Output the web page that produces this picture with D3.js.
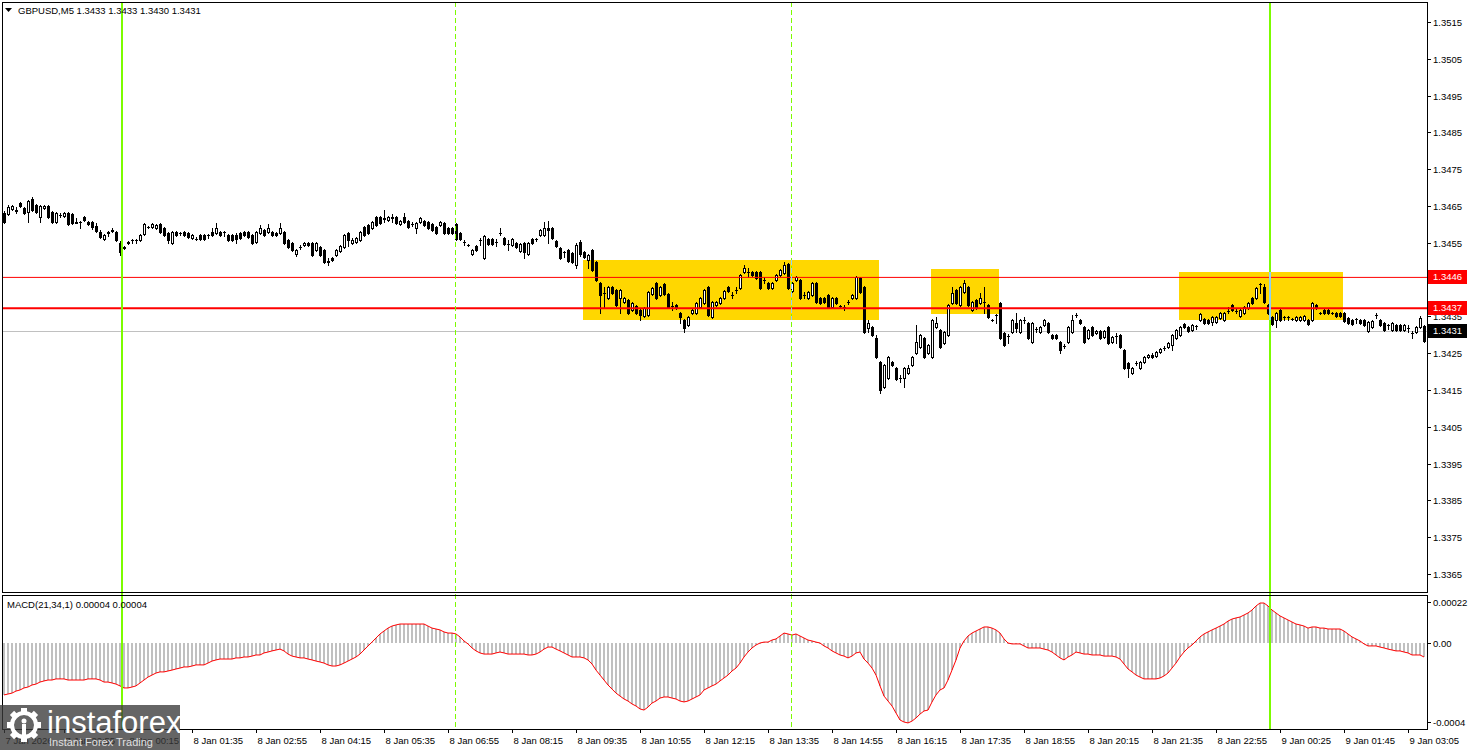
<!DOCTYPE html>
<html><head><meta charset="utf-8">
<script src="https://cdn.jsdelivr.net/npm/d3@7"></script>
<style>
html,body{margin:0;padding:0;background:#fff;}
svg{display:block;}
text{font-family:"Liberation Sans",Arial,sans-serif;}
</style></head><body>
<svg id="chart" width="1468" height="750"></svg>
<script>
const headerText = "GBPUSD,M5  1.3433 1.3433 1.3430 1.3431";
const macdTitle = "MACD(21,34,1) 0.00004 0.00004";

const barOpen = [
1.34631,1.34628,1.34642,1.34636,1.34658,1.34645,1.34634,1.34669,1.34653,1.34620,
1.34645,1.34650,1.34634,1.34607,1.34626,1.34623,1.34631,1.34628,1.34604,1.34607,
1.34620,1.34607,1.34607,1.34596,1.34579,1.34560,1.34577,1.34582,1.34579,1.34550,
1.34536,1.34550,1.34558,1.34558,1.34558,1.34574,1.34593,1.34593,1.34590,1.34601,
1.34590,1.34577,1.34550,1.34579,1.34577,1.34579,1.34577,1.34563,1.34560,1.34571,
1.34571,1.34571,1.34579,1.34577,1.34579,1.34579,1.34571,1.34571,1.34571,1.34577,
1.34579,1.34579,1.34571,1.34552,1.34577,1.34585,1.34579,1.34579,1.34577,1.34577,
1.34579,1.34558,1.34550,1.34520,1.34539,1.34544,1.34550,1.34550,1.34530,1.34539,
1.34530,1.34501,1.34509,1.34517,1.34528,1.34539,1.34577,1.34550,1.34552,1.34558,
1.34593,1.34598,1.34590,1.34620,1.34620,1.34615,1.34612,1.34617,1.34620,1.34601,
1.34620,1.34609,1.34601,1.34590,1.34607,1.34609,1.34607,1.34601,1.34593,1.34598,
1.34604,1.34590,1.34590,1.34601,1.34577,1.34552,1.34544,1.34520,1.34541,1.34558,
1.34509,1.34560,1.34560,1.34552,1.34577,1.34563,1.34547,1.34544,1.34550,1.34528,
1.34550,1.34520,1.34560,1.34560,1.34571,1.34571,1.34590,1.34590,1.34555,1.34536,
1.34525,1.34530,1.34522,1.34490,1.34552,1.34525,1.34503,1.34530,1.34498,1.34441,
1.34414,1.34400,1.34430,1.34422,1.34400,1.34389,1.34395,1.34367,1.34378,1.34367,
1.34351,1.34354,1.34411,1.34441,1.34408,1.34438,1.34411,1.34378,1.34381,1.34359,
1.34340,1.34327,1.34359,1.34359,1.34376,1.34386,1.34430,1.34348,1.34381,1.34386,
1.34400,1.34430,1.34408,1.34422,1.34427,1.34471,1.34471,1.34471,1.34471,1.34471,
1.34449,1.34441,1.34427,1.34449,1.34463,1.34468,1.34492,1.34419,1.34449,1.34449,
1.34408,1.34400,1.34408,1.34441,1.34400,1.34400,1.34408,1.34376,1.34400,1.34378,
1.34376,1.34389,1.34400,1.34400,1.34454,1.34430,1.34319,1.34321,1.34291,1.34226,
1.34158,1.34183,1.34226,1.34210,1.34183,1.34183,1.34196,1.34218,1.34251,1.34267,
1.34291,1.34251,1.34240,1.34321,1.34313,1.34278,1.34300,1.34386,1.34422,1.34381,
1.34416,1.34430,1.34367,1.34395,1.34386,1.34389,1.34381,1.34340,1.34354,1.34386,
1.34305,1.34297,1.34308,1.34332,1.34308,1.34340,1.34332,1.34280,1.34316,1.34308,
1.34327,1.34332,1.34300,1.34300,1.34280,1.34270,1.34280,1.34308,1.34354,1.34340,
1.34321,1.34291,1.34321,1.34305,1.34310,1.34294,1.34321,1.34280,1.34297,1.34300,
1.34259,1.34223,1.34196,1.34223,1.34210,1.34226,1.34240,1.34245,1.34242,1.34253,
1.34264,1.34267,1.34272,1.34291,1.34300,1.34329,1.34321,1.34313,1.34324,1.34340,
1.34343,1.34340,1.34335,1.34335,1.34346,1.34340,1.34365,1.34381,1.34365,1.34351,
1.34359,1.34373,1.34400,1.34400,1.34438,1.34430,1.34381,1.34348,1.34340,1.34367,
1.34348,1.34348,1.34343,1.34340,1.34340,1.34340,1.34340,1.34340,1.34381,1.34359,
1.34367,1.34367,1.34359,1.34359,1.34359,1.34359,1.34346,1.34340,1.34343,1.34340,
1.34340,1.34310,1.34321,1.34354,1.34340,1.34332,1.34327,1.34313,1.34327,1.34327,
1.34313,1.34319,1.34305,1.34308,1.34321,1.34324];

const barHigh = [
1.34636,1.34653,1.34653,1.34647,1.34661,1.34647,1.34666,1.34674,1.34655,1.34653,
1.34653,1.34653,1.34636,1.34634,1.34631,1.34634,1.34634,1.34631,1.34617,1.34609,
1.34623,1.34609,1.34609,1.34604,1.34585,1.34574,1.34582,1.34590,1.34582,1.34555,
1.34541,1.34555,1.34560,1.34560,1.34574,1.34604,1.34596,1.34604,1.34601,1.34604,
1.34593,1.34579,1.34582,1.34582,1.34579,1.34582,1.34579,1.34574,1.34566,1.34574,
1.34574,1.34574,1.34590,1.34604,1.34582,1.34582,1.34574,1.34574,1.34577,1.34579,
1.34582,1.34582,1.34574,1.34582,1.34598,1.34588,1.34601,1.34582,1.34579,1.34604,
1.34582,1.34560,1.34552,1.34533,1.34544,1.34552,1.34552,1.34552,1.34552,1.34541,
1.34533,1.34509,1.34511,1.34533,1.34544,1.34574,1.34579,1.34563,1.34566,1.34582,
1.34596,1.34601,1.34609,1.34623,1.34623,1.34639,1.34623,1.34628,1.34623,1.34612,
1.34631,1.34612,1.34607,1.34607,1.34620,1.34612,1.34609,1.34604,1.34596,1.34609,
1.34607,1.34593,1.34593,1.34604,1.34579,1.34558,1.34547,1.34533,1.34544,1.34563,
1.34571,1.34563,1.34563,1.34560,1.34590,1.34566,1.34558,1.34563,1.34552,1.34550,
1.34552,1.34552,1.34563,1.34563,1.34588,1.34607,1.34609,1.34593,1.34558,1.34539,
1.34528,1.34533,1.34525,1.34550,1.34558,1.34528,1.34520,1.34533,1.34501,1.34444,
1.34430,1.34433,1.34433,1.34425,1.34425,1.34403,1.34397,1.34389,1.34381,1.34370,
1.34376,1.34419,1.34430,1.34444,1.34433,1.34441,1.34414,1.34389,1.34384,1.34362,
1.34343,1.34351,1.34370,1.34389,1.34403,1.34425,1.34433,1.34392,1.34392,1.34403,
1.34422,1.34433,1.34416,1.34430,1.34465,1.34490,1.34482,1.34473,1.34473,1.34473,
1.34457,1.34444,1.34444,1.34465,1.34479,1.34498,1.34495,1.34444,1.34460,1.34452,
1.34416,1.34419,1.34444,1.34444,1.34403,1.34403,1.34411,1.34403,1.34403,1.34381,
1.34381,1.34395,1.34411,1.34460,1.34457,1.34433,1.34340,1.34324,1.34300,1.34229,
1.34221,1.34242,1.34229,1.34213,1.34191,1.34213,1.34218,1.34242,1.34327,1.34302,
1.34294,1.34275,1.34343,1.34348,1.34316,1.34310,1.34384,1.34430,1.34425,1.34433,
1.34449,1.34433,1.34392,1.34397,1.34414,1.34430,1.34384,1.34343,1.34357,1.34389,
1.34308,1.34302,1.34343,1.34359,1.34343,1.34348,1.34335,1.34335,1.34321,1.34324,
1.34343,1.34335,1.34302,1.34302,1.34283,1.34275,1.34324,1.34354,1.34359,1.34343,
1.34324,1.34316,1.34324,1.34313,1.34313,1.34313,1.34324,1.34297,1.34305,1.34302,
1.34261,1.34226,1.34213,1.34229,1.34229,1.34242,1.34248,1.34251,1.34256,1.34264,
1.34270,1.34280,1.34302,1.34316,1.34324,1.34332,1.34324,1.34329,1.34327,1.34359,
1.34346,1.34343,1.34351,1.34351,1.34362,1.34362,1.34376,1.34384,1.34370,1.34370,
1.34378,1.34389,1.34403,1.34430,1.34441,1.34438,1.34384,1.34351,1.34362,1.34370,
1.34351,1.34351,1.34346,1.34351,1.34351,1.34354,1.34343,1.34389,1.34384,1.34362,
1.34370,1.34370,1.34362,1.34362,1.34362,1.34362,1.34348,1.34343,1.34346,1.34343,
1.34343,1.34338,1.34340,1.34359,1.34343,1.34335,1.34329,1.34335,1.34329,1.34329,
1.34329,1.34327,1.34310,1.34324,1.34351,1.34327];

const barLow = [
1.34604,1.34626,1.34639,1.34631,1.34647,1.34628,1.34607,1.34636,1.34631,1.34607,
1.34642,1.34617,1.34604,1.34604,1.34620,1.34620,1.34598,1.34601,1.34604,1.34590,
1.34609,1.34598,1.34588,1.34579,1.34563,1.34558,1.34569,1.34579,1.34555,1.34517,
1.34533,1.34547,1.34550,1.34550,1.34555,1.34571,1.34590,1.34590,1.34588,1.34577,
1.34569,1.34550,1.34547,1.34569,1.34571,1.34569,1.34563,1.34560,1.34558,1.34558,
1.34558,1.34563,1.34569,1.34574,1.34569,1.34569,1.34555,1.34555,1.34550,1.34560,
1.34569,1.34563,1.34547,1.34550,1.34574,1.34569,1.34577,1.34569,1.34569,1.34574,
1.34547,1.34536,1.34528,1.34514,1.34533,1.34541,1.34541,1.34514,1.34528,1.34514,
1.34495,1.34490,1.34501,1.34514,1.34525,1.34536,1.34541,1.34547,1.34550,1.34555,
1.34569,1.34574,1.34588,1.34596,1.34601,1.34607,1.34609,1.34607,1.34601,1.34598,
1.34604,1.34590,1.34596,1.34577,1.34604,1.34596,1.34588,1.34582,1.34574,1.34596,
1.34574,1.34574,1.34574,1.34558,1.34558,1.34544,1.34541,1.34517,1.34528,1.34544,
1.34506,1.34544,1.34544,1.34541,1.34571,1.34544,1.34530,1.34541,1.34536,1.34525,
1.34509,1.34517,1.34547,1.34555,1.34569,1.34569,1.34550,1.34560,1.34539,1.34506,
1.34511,1.34498,1.34495,1.34482,1.34514,1.34509,1.34482,1.34473,1.34446,1.34359,
1.34376,1.34397,1.34411,1.34378,1.34359,1.34386,1.34357,1.34365,1.34357,1.34340,
1.34348,1.34351,1.34408,1.34397,1.34405,1.34408,1.34373,1.34367,1.34370,1.34332,
1.34308,1.34324,1.34357,1.34357,1.34373,1.34384,1.34351,1.34346,1.34378,1.34384,
1.34397,1.34416,1.34400,1.34414,1.34425,1.34468,1.34457,1.34460,1.34452,1.34425,
1.34441,1.34425,1.34425,1.34446,1.34460,1.34465,1.34425,1.34416,1.34446,1.34397,
1.34400,1.34397,1.34405,1.34386,1.34384,1.34386,1.34373,1.34373,1.34384,1.34373,
1.34367,1.34384,1.34397,1.34397,1.34414,1.34305,1.34308,1.34297,1.34237,1.34142,
1.34155,1.34180,1.34215,1.34177,1.34172,1.34158,1.34193,1.34215,1.34248,1.34264,
1.34237,1.34248,1.34237,1.34319,1.34264,1.34275,1.34297,1.34384,1.34384,1.34378,
1.34414,1.34378,1.34365,1.34370,1.34384,1.34359,1.34346,1.34338,1.34332,1.34289,
1.34270,1.34278,1.34305,1.34308,1.34305,1.34332,1.34289,1.34278,1.34308,1.34305,
1.34324,1.34305,1.34289,1.34289,1.34251,1.34264,1.34278,1.34305,1.34348,1.34329,
1.34278,1.34289,1.34297,1.34302,1.34289,1.34291,1.34275,1.34278,1.34278,1.34264,
1.34207,1.34185,1.34193,1.34218,1.34207,1.34223,1.34237,1.34237,1.34240,1.34251,
1.34259,1.34264,1.34259,1.34289,1.34297,1.34319,1.34308,1.34310,1.34316,1.34338,
1.34329,1.34329,1.34327,1.34332,1.34343,1.34338,1.34359,1.34365,1.34359,1.34348,
1.34357,1.34370,1.34384,1.34397,1.34414,1.34386,1.34357,1.34327,1.34321,1.34338,
1.34340,1.34340,1.34340,1.34338,1.34338,1.34338,1.34327,1.34338,1.34370,1.34357,
1.34357,1.34357,1.34357,1.34348,1.34348,1.34335,1.34329,1.34327,1.34332,1.34329,
1.34324,1.34308,1.34319,1.34346,1.34324,1.34310,1.34316,1.34310,1.34310,1.34310,
1.34310,1.34308,1.34291,1.34305,1.34319,1.34280];

const barClose = [
1.34607,1.34647,1.34650,1.34639,1.34650,1.34631,1.34664,1.34639,1.34634,1.34650,
1.34650,1.34620,1.34607,1.34631,1.34626,1.34631,1.34601,1.34604,1.34607,1.34607,
1.34612,1.34601,1.34593,1.34582,1.34566,1.34571,1.34579,1.34585,1.34558,1.34525,
1.34539,1.34552,1.34558,1.34558,1.34571,1.34601,1.34593,1.34601,1.34598,1.34579,
1.34571,1.34558,1.34579,1.34571,1.34577,1.34571,1.34566,1.34571,1.34560,1.34560,
1.34560,1.34571,1.34571,1.34590,1.34571,1.34579,1.34558,1.34558,1.34560,1.34563,
1.34571,1.34566,1.34550,1.34579,1.34590,1.34571,1.34590,1.34571,1.34571,1.34590,
1.34550,1.34539,1.34530,1.34530,1.34539,1.34550,1.34544,1.34517,1.34550,1.34517,
1.34498,1.34498,1.34503,1.34530,1.34541,1.34571,1.34558,1.34558,1.34563,1.34579,
1.34571,1.34577,1.34607,1.34598,1.34604,1.34617,1.34620,1.34620,1.34604,1.34609,
1.34607,1.34593,1.34601,1.34604,1.34617,1.34598,1.34590,1.34585,1.34577,1.34607,
1.34577,1.34577,1.34577,1.34560,1.34560,1.34552,1.34544,1.34530,1.34530,1.34558,
1.34569,1.34547,1.34547,1.34552,1.34577,1.34547,1.34547,1.34560,1.34539,1.34547,
1.34525,1.34550,1.34550,1.34560,1.34585,1.34590,1.34585,1.34563,1.34541,1.34509,
1.34525,1.34501,1.34498,1.34544,1.34520,1.34511,1.34517,1.34476,1.34449,1.34408,
1.34414,1.34430,1.34414,1.34381,1.34422,1.34400,1.34359,1.34386,1.34359,1.34354,
1.34373,1.34416,1.34427,1.34400,1.34430,1.34411,1.34376,1.34378,1.34373,1.34348,
1.34319,1.34348,1.34367,1.34386,1.34400,1.34422,1.34354,1.34389,1.34389,1.34400,
1.34419,1.34419,1.34408,1.34422,1.34463,1.34482,1.34471,1.34463,1.34454,1.34427,
1.34449,1.34427,1.34441,1.34463,1.34476,1.34490,1.34427,1.34441,1.34457,1.34400,
1.34408,1.34416,1.34441,1.34389,1.34386,1.34389,1.34376,1.34400,1.34386,1.34378,
1.34376,1.34389,1.34408,1.34457,1.34416,1.34308,1.34332,1.34300,1.34240,1.34150,
1.34218,1.34240,1.34218,1.34180,1.34183,1.34210,1.34210,1.34240,1.34280,1.34300,
1.34240,1.34272,1.34340,1.34332,1.34267,1.34308,1.34381,1.34414,1.34386,1.34430,
1.34441,1.34381,1.34389,1.34373,1.34400,1.34389,1.34348,1.34340,1.34354,1.34291,
1.34272,1.34297,1.34340,1.34319,1.34340,1.34340,1.34291,1.34332,1.34316,1.34321,
1.34340,1.34308,1.34291,1.34291,1.34259,1.34270,1.34321,1.34340,1.34354,1.34332,
1.34280,1.34313,1.34300,1.34310,1.34291,1.34310,1.34278,1.34294,1.34297,1.34267,
1.34210,1.34210,1.34210,1.34223,1.34226,1.34240,1.34245,1.34240,1.34253,1.34261,
1.34264,1.34278,1.34300,1.34313,1.34321,1.34321,1.34310,1.34327,1.34324,1.34357,
1.34332,1.34332,1.34348,1.34348,1.34359,1.34359,1.34365,1.34367,1.34365,1.34367,
1.34376,1.34386,1.34386,1.34427,1.34438,1.34389,1.34359,1.34329,1.34359,1.34340,
1.34348,1.34348,1.34343,1.34348,1.34348,1.34351,1.34329,1.34386,1.34373,1.34359,
1.34359,1.34359,1.34359,1.34351,1.34351,1.34338,1.34332,1.34329,1.34343,1.34332,
1.34327,1.34335,1.34338,1.34354,1.34327,1.34313,1.34327,1.34332,1.34313,1.34313,
1.34327,1.34319,1.34305,1.34321,1.34346,1.34283];

const macdValues = [
-0.000282,-0.000277,-0.000272,-0.000261,-0.000255,-0.000244,-0.000239,-0.000228,-0.000223,-0.000212,
-0.000206,-0.000201,-0.000201,-0.000195,-0.000195,-0.000195,-0.000201,-0.000201,-0.000201,-0.000201,
-0.000201,-0.000195,-0.000195,-0.000195,-0.000201,-0.000212,-0.000212,-0.000217,-0.000223,-0.000233,
-0.000244,-0.000244,-0.000239,-0.000233,-0.000217,-0.000201,-0.000185,-0.000174,-0.000163,-0.000157,
-0.000157,-0.000152,-0.000147,-0.000141,-0.000136,-0.000130,-0.000130,-0.000125,-0.000119,-0.000119,
-0.000119,-0.000109,-0.000098,-0.000092,-0.000087,-0.000087,-0.000087,-0.000087,-0.000081,-0.000081,
-0.000076,-0.000076,-0.000071,-0.000065,-0.000065,-0.000054,-0.000049,-0.000043,-0.000038,-0.000033,
-0.000043,-0.000060,-0.000071,-0.000076,-0.000081,-0.000081,-0.000087,-0.000092,-0.000098,-0.000103,
-0.000109,-0.000119,-0.000125,-0.000125,-0.000119,-0.000109,-0.000098,-0.000087,-0.000076,-0.000060,
-0.000038,-0.000016,0.000005,0.000027,0.000049,0.000065,0.000081,0.000092,0.000098,0.000103,
0.000103,0.000103,0.000103,0.000103,0.000103,0.000103,0.000092,0.000081,0.000076,0.000071,
0.000060,0.000054,0.000054,0.000049,0.000033,0.000011,-0.000005,-0.000027,-0.000043,-0.000054,
-0.000060,-0.000060,-0.000060,-0.000054,-0.000049,-0.000054,-0.000060,-0.000060,-0.000060,-0.000060,
-0.000060,-0.000065,-0.000065,-0.000060,-0.000049,-0.000033,-0.000022,-0.000022,-0.000033,-0.000043,
-0.000054,-0.000065,-0.000076,-0.000076,-0.000076,-0.000081,-0.000092,-0.000114,-0.000147,-0.000174,
-0.000201,-0.000228,-0.000250,-0.000272,-0.000288,-0.000304,-0.000315,-0.000331,-0.000342,-0.000358,
-0.000364,-0.000348,-0.000326,-0.000315,-0.000299,-0.000293,-0.000293,-0.000299,-0.000304,-0.000315,
-0.000320,-0.000315,-0.000304,-0.000293,-0.000282,-0.000255,-0.000244,-0.000233,-0.000223,-0.000206,
-0.000190,-0.000174,-0.000152,-0.000136,-0.000109,-0.000076,-0.000049,-0.000027,-0.000011,0.000000,
0.000005,0.000005,0.000016,0.000022,0.000038,0.000054,0.000049,0.000043,0.000049,0.000038,
0.000027,0.000016,0.000011,0.000005,0.000000,-0.000016,-0.000027,-0.000043,-0.000054,-0.000065,
-0.000071,-0.000081,-0.000071,-0.000054,-0.000049,-0.000087,-0.000109,-0.000136,-0.000174,-0.000233,
-0.000288,-0.000315,-0.000342,-0.000380,-0.000418,-0.000429,-0.000434,-0.000424,-0.000407,-0.000386,
-0.000369,-0.000364,-0.000320,-0.000282,-0.000255,-0.000244,-0.000201,-0.000147,-0.000092,-0.000027,
0.000011,0.000038,0.000054,0.000065,0.000076,0.000087,0.000087,0.000081,0.000071,0.000054,
0.000022,0.000000,-0.000005,-0.000005,-0.000005,-0.000016,-0.000027,-0.000027,-0.000027,-0.000027,
-0.000033,-0.000038,-0.000049,-0.000065,-0.000081,-0.000092,-0.000076,-0.000065,-0.000049,-0.000054,
-0.000060,-0.000060,-0.000065,-0.000065,-0.000065,-0.000071,-0.000071,-0.000071,-0.000076,-0.000087,
-0.000114,-0.000141,-0.000157,-0.000174,-0.000185,-0.000195,-0.000195,-0.000195,-0.000195,-0.000190,
-0.000179,-0.000163,-0.000136,-0.000109,-0.000076,-0.000049,-0.000027,-0.000011,0.000011,0.000033,
0.000049,0.000060,0.000071,0.000081,0.000092,0.000103,0.000119,0.000130,0.000136,0.000141,
0.000152,0.000163,0.000179,0.000201,0.000217,0.000217,0.000201,0.000179,0.000163,0.000147,
0.000136,0.000125,0.000114,0.000103,0.000098,0.000092,0.000081,0.000087,0.000087,0.000081,
0.000081,0.000076,0.000076,0.000076,0.000076,0.000065,0.000049,0.000033,0.000022,0.000011,
-0.000005,-0.000016,-0.000016,-0.000016,-0.000022,-0.000027,-0.000033,-0.000038,-0.000043,-0.000043,
-0.000049,-0.000054,-0.000065,-0.000065,-0.000065,-0.000076];

const priceTicks = [1.3365,1.3375,1.3385,1.3395,1.3405,1.3415,1.3425,1.3435,1.3445,1.3455,1.3465,1.3475,1.3485,1.3495,1.3505,1.3515];
const macdTickValues = [0.00022, 0, -0.00043];
const macdTickLabels = ["0.00022", "0.00", "-0.0004"];
const timeTickBars = [0,15,31,47,63,79,95,111,127,143,159,175,191,207,223,239,255,271,287,303,319,335,351];
const timeTickLabels = ["7 Jan 2026","7 Jan 22:55","8 Jan 00:15","8 Jan 01:35","8 Jan 02:55","8 Jan 04:15","8 Jan 05:35","8 Jan 06:55","8 Jan 08:15","8 Jan 09:35","8 Jan 10:55","8 Jan 12:15","8 Jan 13:35","8 Jan 14:55","8 Jan 16:15","8 Jan 17:35","8 Jan 18:55","8 Jan 20:15","8 Jan 21:35","8 Jan 22:55","9 Jan 00:25","9 Jan 01:45","9 Jan 03:05"];

const levelPrices = [1.34456, 1.34372];
const levelLabels = ["1.3446", "1.3437"];
const levelWidths = [1, 2];
const bidPrice = 1.34310;
const bidLabel = "1.3431";

const zoneStartBar = [144.7, 231.8, 293.8];
const zoneEndBar = [218.8, 248.8, 334.8];
const zoneTop = [1.34503, 1.34479, 1.34471];
const zoneBottom = [1.34340, 1.34357, 1.34340];

const dayLineBars = [29.6, 316.6];
const dashLineBars = [112.8, 196.8];

// ---------- drawing ----------
const W = 1468, H = 750;
const svg = d3.select("#chart");
const plotL = 2, plotR = 1427;
const mainTop = 2, mainBot = 592;
const subTop = 595, subBot = 729;
const N = barClose.length;

const x = d3.scaleLinear().domain([0, N - 1]).range([4, 1424]);
const y = d3.scaleLinear().domain([1.3365, 1.3515]).range([574, 22]);
const my = d3.scaleLinear().domain([0, 0.0001]).range([643, 624.58]);

svg.append("rect").attr("width", W).attr("height", H).attr("fill", "#fff");

const defs = svg.append("defs");
defs.append("clipPath").attr("id", "mainClip").append("rect")
  .attr("x", plotL).attr("y", mainTop).attr("width", plotR - plotL).attr("height", mainBot - mainTop);
defs.append("clipPath").attr("id", "subClip").append("rect")
  .attr("x", plotL).attr("y", subTop).attr("width", plotR - plotL).attr("height", subBot - subTop);

const main = svg.append("g").attr("clip-path", "url(#mainClip)");
const sub = svg.append("g").attr("clip-path", "url(#subClip)");

// zones
const zoneIdx = d3.range(zoneStartBar.length);
main.selectAll("rect.zone").data(zoneIdx).join("rect")
  .attr("x", i => Math.round(x(zoneStartBar[i])))
  .attr("y", i => Math.round(y(zoneTop[i])))
  .attr("width", i => Math.round(x(zoneEndBar[i])) - Math.round(x(zoneStartBar[i])))
  .attr("height", i => Math.round(y(zoneBottom[i])) - Math.round(y(zoneTop[i])))
  .attr("fill", "#FFD700");

// bid line
main.append("line").attr("x1", plotL).attr("x2", plotR)
  .attr("y1", Math.round(y(bidPrice)) + 0.5).attr("y2", Math.round(y(bidPrice)) + 0.5)
  .attr("stroke", "#c0c0c0").attr("stroke-width", 1);

// candles
const cg = main.append("g").attr("shape-rendering", "crispEdges");
d3.range(N).forEach(i => {
  const cx = Math.round(x(i));
  const o = barOpen[i], c = barClose[i];
  cg.append("line").attr("x1", cx + 0.5).attr("x2", cx + 0.5)
    .attr("y1", Math.round(y(barHigh[i]))).attr("y2", Math.round(y(barLow[i])) + 1)
    .attr("stroke", "#000").attr("stroke-width", 1);
  const yt = Math.round(y(Math.max(o, c)));
  const yb = Math.round(y(Math.min(o, c)));
  if (yb - yt < 1) {
    cg.append("line").attr("x1", cx - 1).attr("x2", cx + 2)
      .attr("y1", yt + 0.5).attr("y2", yt + 0.5).attr("stroke", "#000");
  } else if (c > o) {
    cg.append("rect").attr("x", cx - 0.5).attr("y", yt + 0.5)
      .attr("width", 2).attr("height", yb - yt)
      .attr("fill", "#fff").attr("stroke", "#000").attr("stroke-width", 1);
  } else {
    cg.append("rect").attr("x", cx - 1).attr("y", yt)
      .attr("width", 3).attr("height", yb - yt + 1).attr("fill", "#000");
  }
});

// level lines
levelPrices.forEach((p, k) => {
  const yy = y(p);
  main.append("line").attr("x1", plotL).attr("x2", plotR)
    .attr("y1", yy).attr("y2", yy)
    .attr("stroke", "#ff0000").attr("stroke-width", levelWidths[k]);
});

// macd histogram
sub.append("g").attr("shape-rendering", "crispEdges")
  .selectAll("rect").data(macdValues).join("rect")
  .attr("x", (d, i) => Math.round(x(i)) - 1)
  .attr("y", d => Math.round(Math.min(my(d), my(0))))
  .attr("width", 2)
  .attr("height", d => Math.max(1, Math.round(Math.abs(my(d) - my(0)))))
  .attr("fill", "#c0c0c0");
sub.append("path").datum(macdValues)
  .attr("d", d3.line().x((d, i) => x(i)).y(d => my(d)))
  .attr("fill", "none").attr("stroke", "#ff0000").attr("stroke-width", 1);

// vertical lines
function vline(bar, dashed, width, color) {
  const xx = Math.round(x(bar)) + (width === 1 ? 0.5 : 0);
  svg.append("line").attr("x1", xx).attr("x2", xx)
    .attr("y1", mainTop).attr("y2", subBot)
    .attr("stroke", color).attr("stroke-width", width)
    .attr("stroke-dasharray", dashed ? "5,3" : null);
  zoneIdx.forEach(i => {
    if (bar >= zoneStartBar[i] && bar <= zoneEndBar[i]) {
      svg.append("line").attr("x1", xx).attr("x2", xx)
        .attr("y1", Math.round(y(zoneTop[i]))).attr("y2", Math.round(y(zoneBottom[i])))
        .attr("stroke", "#8fd0f5").attr("stroke-width", width)
        .attr("stroke-dasharray", dashed ? "5,3" : null);
    }
  });
}
dashLineBars.forEach(b => vline(b, true, 1, "#7CFC00"));
dayLineBars.forEach(b => vline(b, false, 2, "#7CFC00"));

// frames
svg.append("rect").attr("x", plotL + 0.5).attr("y", mainTop + 0.5)
  .attr("width", plotR - plotL).attr("height", mainBot - mainTop)
  .attr("fill", "none").attr("stroke", "#000");
svg.append("rect").attr("x", plotL + 0.5).attr("y", subTop + 0.5)
  .attr("width", plotR - plotL).attr("height", subBot - subTop)
  .attr("fill", "none").attr("stroke", "#000");

// price axis (labels hidden where a price tag covers them, as in the terminal)
const pa = svg.append("g");
priceTicks.forEach(p => {
  const yy = Math.round(y(p)) + 0.5;
  pa.append("line").attr("x1", plotR).attr("x2", plotR + 4).attr("y1", yy).attr("y2", yy).attr("stroke", "#000");
  const covered = levelPrices.some(l => Math.abs(y(l) - y(p)) < 3);
  if (!covered) {
    pa.append("text").attr("x", plotR + 6).attr("y", yy).attr("dy", "0.35em")
      .attr("font-size", 9.5).attr("fill", "#000").text(d3.format(".4f")(p));
  }
});
function priceTag(p, label, bg) {
  const yy = Math.round(y(p));
  pa.append("rect").attr("x", plotR + 1).attr("y", yy - 7).attr("width", 39).attr("height", 14).attr("fill", bg);
  pa.append("text").attr("x", plotR + 6).attr("y", yy).attr("dy", "0.35em")
    .attr("font-size", 9.5).attr("fill", "#fff").text(label);
}
levelPrices.forEach((p, k) => priceTag(p, levelLabels[k], "#ff0000"));
priceTag(bidPrice, bidLabel, "#000");

// macd axis
macdTickValues.forEach((v, k) => {
  const yy = Math.round(my(v)) + 0.5;
  pa.append("line").attr("x1", plotR).attr("x2", plotR + 4).attr("y1", yy).attr("y2", yy).attr("stroke", "#000");
  pa.append("text").attr("x", plotR + 6).attr("y", yy).attr("dy", "0.35em")
    .attr("font-size", 9.5).attr("fill", "#000").text(macdTickLabels[k]);
});

// time axis
timeTickBars.forEach((b, k) => {
  const xx = Math.round(x(b)) + 0.5;
  pa.append("line").attr("x1", xx).attr("x2", xx).attr("y1", subBot).attr("y2", subBot + 4).attr("stroke", "#000");
  pa.append("text").attr("x", xx + 1).attr("y", 741).attr("dy", "0.35em")
    .attr("font-size", 9.5).attr("fill", "#000").text(timeTickLabels[k]);
});

// header texts
svg.append("path").attr("d", "M5,8 L12,8 L8.5,12 Z").attr("fill", "#000");
svg.append("text").attr("x", 18).attr("y", 10.5).attr("dy", "0.35em")
  .attr("font-size", 9.5).attr("fill", "#000").text(headerText);
svg.append("text").attr("x", 7).attr("y", 605).attr("dy", "0.35em")
  .attr("font-size", 9.5).attr("fill", "#000").text(macdTitle);

// watermark
const wm = svg.append("g");
wm.append("rect").attr("x", 0).attr("y", 705).attr("width", 180).attr("height", 45)
  .attr("fill", "#3a3a3a").attr("opacity", 0.78);
const gear = wm.append("g").attr("transform", "translate(24,725)");
d3.range(8).forEach(k => {
  gear.append("rect").attr("x", -3).attr("y", -17).attr("width", 6).attr("height", 7)
    .attr("fill", "#fff").attr("transform", `rotate(${k * 45})`);
});
gear.append("circle").attr("r", 12).attr("fill", "none").attr("stroke", "#fff").attr("stroke-width", 4);
gear.append("circle").attr("cy", -4).attr("r", 2.5).attr("fill", "#fff");
gear.append("rect").attr("x", -2).attr("y", -1).attr("width", 4).attr("height", 11).attr("fill", "#fff");
wm.append("text").attr("x", 47).attr("y", 733).attr("font-size", 31).attr("fill", "#fff")
  .attr("font-family", "Open Sans, Liberation Sans, sans-serif").text("instaforex");
wm.append("text").attr("x", 49).attr("y", 746).attr("font-size", 11).attr("fill", "#e0e0e0")
  .text("Instant Forex Trading");
</script>
</body></html>
